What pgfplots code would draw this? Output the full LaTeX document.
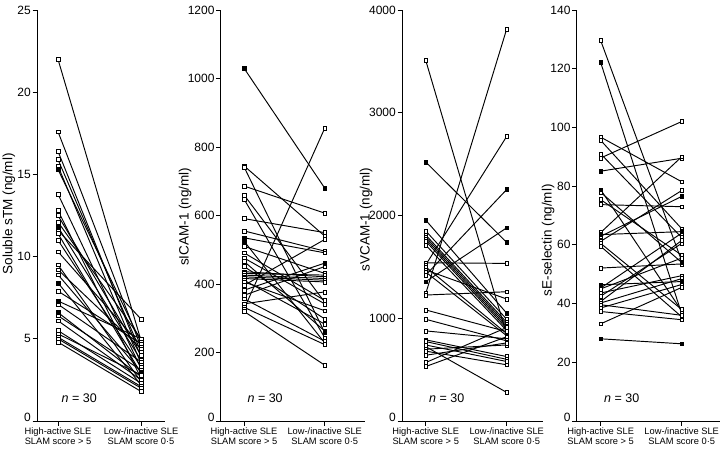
\documentclass[border=0pt]{standalone}
\usepackage{fontspec}
\setmainfont{Liberation Sans}
\usepackage{pgfplots}
\pgfplotsset{compat=1.18}

\newcommand{\pr}[2]{\addplot[pair] coordinates {(0,#1) (1,#2)};}

\tikzset{ntext/.style={anchor=west, font=\fontsize{12.5}{12.5}\selectfont}}
\pgfplotsset{
  pair/.style={black, line width=0.95pt, mark=square*, mark size=1.9pt,
    mark options={fill=white, draw=black, line width=0.5pt, solid}},
  filled/.style={only marks, mark=square*, mark size=1.9pt,
    mark options={fill=black, draw=black, line width=0.5pt}},
  panel/.style={
    scale only axis, height=411pt, anchor=south west,
    axis x line=bottom, axis y line=left, axis line style={-, line width=0.8pt},
    tick style={black, line width=0.8pt},
    tick align=outside, major tick length=4.5pt,
    xtick={0,1}, ymin=0, clip=false,
    scaled y ticks=false,
    /pgf/number format/assume math mode=true,
    /pgf/number format/1000 sep={},
    yticklabel style={font=\fontsize{12}{12}\selectfont, inner sep=1.5pt},
    extra y ticks={0},
    extra y tick style={yticklabel style={yshift=4pt}},
    xticklabel style={font=\fontsize{9.3}{10.5}\selectfont, align=center, inner sep=1pt, yshift=-1pt},
    xticklabels={{High-active SLE\\SLAM score > 5},{Low-/inactive SLE\\SLAM score 0·5}},
    ylabel style={font=\fontsize{13.5}{13.5}\selectfont, anchor=center},
  },
}

\begin{document}
\begin{tikzpicture}
\path[use as bounding box] (0,0) rectangle (722pt,448pt);

% Panel 1: soluble sTM
\begin{axis}[panel, at={(37pt,27pt)}, width=128pt,
  xmin=-0.253, xmax=1.289, ymax=25, ytick={5,10,15,20,25},
  ylabel={Soluble sTM (ng/ml)},
  ylabel style={at={(axis description cs:-0.219,0.504)}}]
\pr{22.0}{4.9}\pr{17.6}{4.5}\pr{16.4}{3.9}\pr{15.9}{4.2}\pr{15.5}{3.5}
\pr{15.3}{4.8}\pr{13.8}{3.2}\pr{12.8}{2.6}\pr{12.5}{4.0}\pr{12.1}{5.0}
\pr{11.8}{3.7}\pr{11.6}{6.2}\pr{11.4}{2.9}\pr{11.0}{3.3}\pr{10.3}{4.6}
\pr{9.5}{2.4}\pr{9.2}{4.4}\pr{8.9}{3.0}\pr{8.4}{2.2}\pr{7.9}{4.7}
\pr{7.3}{5.0}\pr{7.1}{3.6}\pr{6.6}{2.7}\pr{6.4}{3.1}\pr{6.1}{2.5}
\pr{5.5}{2.3}\pr{5.3}{2.8}\pr{5.1}{2.1}\pr{5.0}{2.0}\pr{4.8}{1.8}
\addplot[filled] coordinates {(0,15.3)(0,11.8)(0,8.4)(0,7.3)(0,6.6)(1,3.0)};
\node[ntext] at (rel axis cs:0.165,0.056) {\textit{n} = 30};
\end{axis}

% Panel 2: sICAM-1
\begin{axis}[panel, at={(220.7pt,27pt)}, width=144.3pt,
  xmin=-0.289, xmax=1.499, ymax=1200, ytick={200,400,600,800,1000,1200},
  ylabel={sICAM-1 (ng/ml)},
  ylabel style={at={(axis description cs:-0.247,0.497)}}]
\pr{1030}{680}\pr{745}{540}\pr{742}{258}\pr{686}{607}\pr{660}{347}
\pr{648}{243}\pr{591}{550}\pr{555}{496}\pr{535}{491}\pr{525}{228}
\pr{510}{431}\pr{491}{352}\pr{476}{342}\pr{466}{263}\pr{451}{298}
\pr{436}{421}\pr{431}{426}\pr{426}{416}\pr{421}{411}\pr{416}{406}
\pr{411}{283}\pr{406}{322}\pr{396}{530}\pr{382}{461}\pr{367}{451}
\pr{357}{233}\pr{342}{377}\pr{332}{223}\pr{327}{855}\pr{320}{163}
\addplot[filled] coordinates {(0,1030)(0,535)(0,525)(1,680)(1,461)(1,263)};
\node[ntext] at (rel axis cs:0.162,0.056) {\textit{n} = 30};
\end{axis}

% Panel 3: sVCAM-1
\begin{axis}[panel, at={(402pt,27pt)}, width=141pt,
  xmin=-0.293, xmax=1.448, ymax=4000, ytick={1000,2000,3000,4000},
  ylabel={sVCAM-1 (ng/ml)},
  ylabel style={at={(axis description cs:-0.255,0.49)}}]
\pr{3510}{840}\pr{2520}{1738}\pr{1955}{1049}\pr{1850}{990}\pr{1810}{960}
\pr{1790}{940}\pr{1770}{920}\pr{1750}{900}\pr{1712}{880}\pr{1540}{1534}
\pr{1520}{2770}\pr{1500}{850}\pr{1470}{1187}\pr{1450}{830}\pr{1420}{2253}
\pr{1356}{1880}\pr{1240}{3816}\pr{1226}{1258}\pr{1081}{870}\pr{990}{780}
\pr{877}{800}\pr{790}{627}\pr{773}{600}\pr{724}{278}\pr{699}{740}
\pr{640}{760}\pr{569}{910}\pr{530}{820}\pr{740}{579}\pr{680}{547}
\addplot[filled] coordinates {(0,2520)(0,1955)(0,1356)(1,2253)(1,1880)(1,1738)(1,1049)};
\node[ntext] at (rel axis cs:0.168,0.056) {\textit{n} = 30};
\end{axis}

% Panel 4: sE-selectin
\begin{axis}[panel, at={(576.7pt,27pt)}, width=143.3pt,
  xmin=-0.296, xmax=1.473, ymax=140, ytick={20,40,60,80,100,120,140},
  ylabel={sE-selectin (ng/ml)},
  ylabel style={at={(axis description cs:-0.2,0.44)}}]
\pr{129.6}{54.5}\pr{122.1}{36.5}\pr{96.7}{81.5}\pr{95.6}{65.5}\pr{91.0}{62.5}
\pr{89.6}{102}\pr{85.1}{89.5}\pr{78.8}{37.5}\pr{77.9}{54}\pr{75.4}{56.5}
\pr{73.7}{73}\pr{64.2}{90}\pr{63.5}{64.5}\pr{62.9}{76.5}\pr{61.2}{78.5}
\pr{60.5}{38}\pr{59.5}{35.5}\pr{52.1}{53.5}\pr{46.4}{47.5}\pr{45.3}{64}
\pr{45.0}{55.5}\pr{43.6}{49.5}\pr{42.5}{60.5}\pr{40.7}{61.5}\pr{40.2}{48.5}
\pr{39.6}{36}\pr{38.5}{46.5}\pr{37.3}{34.5}\pr{33.1}{45.5}\pr{28.0}{26.3}
\addplot[filled] coordinates {(0,122.1)(0,85.1)(0,78.8)(0,63.5)(0,46.4)(0,28.0)(1,76.5)(1,64.5)(1,54)(1,26.3)(1,47.5)};
\node[ntext] at (rel axis cs:0.167,0.056) {\textit{n} = 30};
\end{axis}
\end{tikzpicture}
\end{document}
